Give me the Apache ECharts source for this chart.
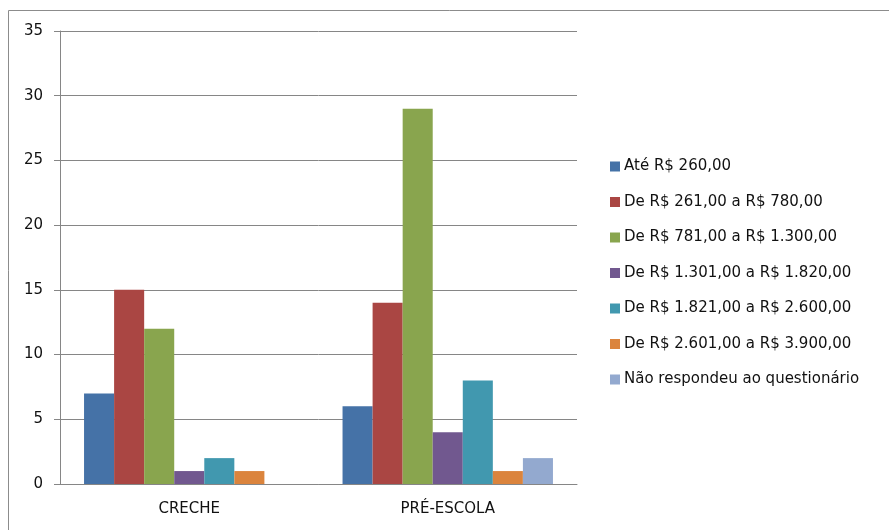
<!DOCTYPE html>
<html>
<head>
<meta charset="utf-8">
<script src="https://cdn.jsdelivr.net/npm/echarts@6/dist/echarts.min.js"></script>
<style>
	html, body { margin: 0; padding: 0; background: #fff; }
	#chart { width: 889px; height: 530px; }
</style>
</head>
<body>
<div id="chart"></div>
<script>
// categorias e faixas de renda
var categorias = [ 'CRECHE', 'PRÉ-ESCOLA' ];
var faixas = [ 'Até R$ 260,00', 'De R$ 261,00 a R$ 780,00',
		'De R$ 781,00 a R$ 1.300,00', 'De R$ 1.301,00 a R$ 1.820,00',
		'De R$ 1.821,00 a R$ 2.600,00', 'De R$ 2.601,00 a R$ 3.900,00',
		'Não respondeu ao questionário' ];
// valores por faixa: [CRECHE, PRÉ-ESCOLA]
var ate260 = [ 7, 6 ];
var de261a780 = [ 15, 14 ];
var de781a1300 = [ 12, 29 ];
var de1301a1820 = [ 1, 4 ];
var de1821a2600 = [ 2, 8 ];
var de2601a3900 = [ 1, 1 ];
var naoRespondeu = [ 0, 2 ];
var yTicks = [ 0, 5, 10, 15, 20, 25, 30, 35 ];

var valores = [ ate260, de261a780, de781a1300, de1301a1820, de1821a2600,
		de2601a3900, naoRespondeu ];

var myChart = echarts.init(document.getElementById('chart'));

var series = [];
for ( var i = 0; i < faixas.length; i++) {
	series.push({
		name : faixas[i],
		type : 'bar',
		barGap : '0%',
		barCategoryGap : '18.6%',
		data : valores[i]
	});
}

var option = {
	animation : false,
	color : [ '#4572A7', '#AA4643', '#89A54E', '#71588F', '#4198AF',
			'#DB843D', '#93A9CF' ],
	textStyle : {
		fontFamily : 'DejaVu Sans'
	},
	graphic : [ { // moldura do gráfico
		type : 'polyline',
		shape : {
			points : [ [ 8.5, 540 ], [ 8.5, 10.5 ], [ 900, 10.5 ] ]
		},
		style : {
			stroke : '#8c8c8c',
			lineWidth : 1,
			fill : null
		},
		silent : true
	} ],
	grid : {
		left : 60,
		right : 312,
		top : 31,
		bottom : 46
	},
	legend : {
		orient : 'vertical',
		left : 605,
		top : 154,
		itemWidth : 10,
		itemHeight : 10,
		itemGap : 20.5,
		icon : 'rect',
		data : faixas,
		textStyle : {
			fontSize : 15,
			color : '#111',
			padding : [ 0, 0, 0, -1 ]
		}
	},
	xAxis : {
		type : 'category',
		data : categorias,
		axisLine : {
			lineStyle : {
				color : '#868686'
			}
		},
		axisTick : {
			length : 6,
			lineStyle : {
				color : '#868686'
			}
		},
		axisLabel : {
			fontSize : 15,
			color : '#111',
			margin : 18
		}
	},
	yAxis : {
		type : 'value',
		min : yTicks[0],
		max : yTicks[yTicks.length - 1],
		interval : 5,
		axisLine : {
			show : true,
			lineStyle : {
				color : '#868686'
			}
		},
		axisTick : {
			show : true,
			length : 6,
			lineStyle : {
				color : '#868686'
			}
		},
		splitLine : {
			lineStyle : {
				color : '#868686'
			}
		},
		axisLabel : {
			fontSize : 15,
			color : '#111',
			margin : 17
		}
	},
	series : series
};

myChart.setOption(option);
</script>
</body>
</html>
